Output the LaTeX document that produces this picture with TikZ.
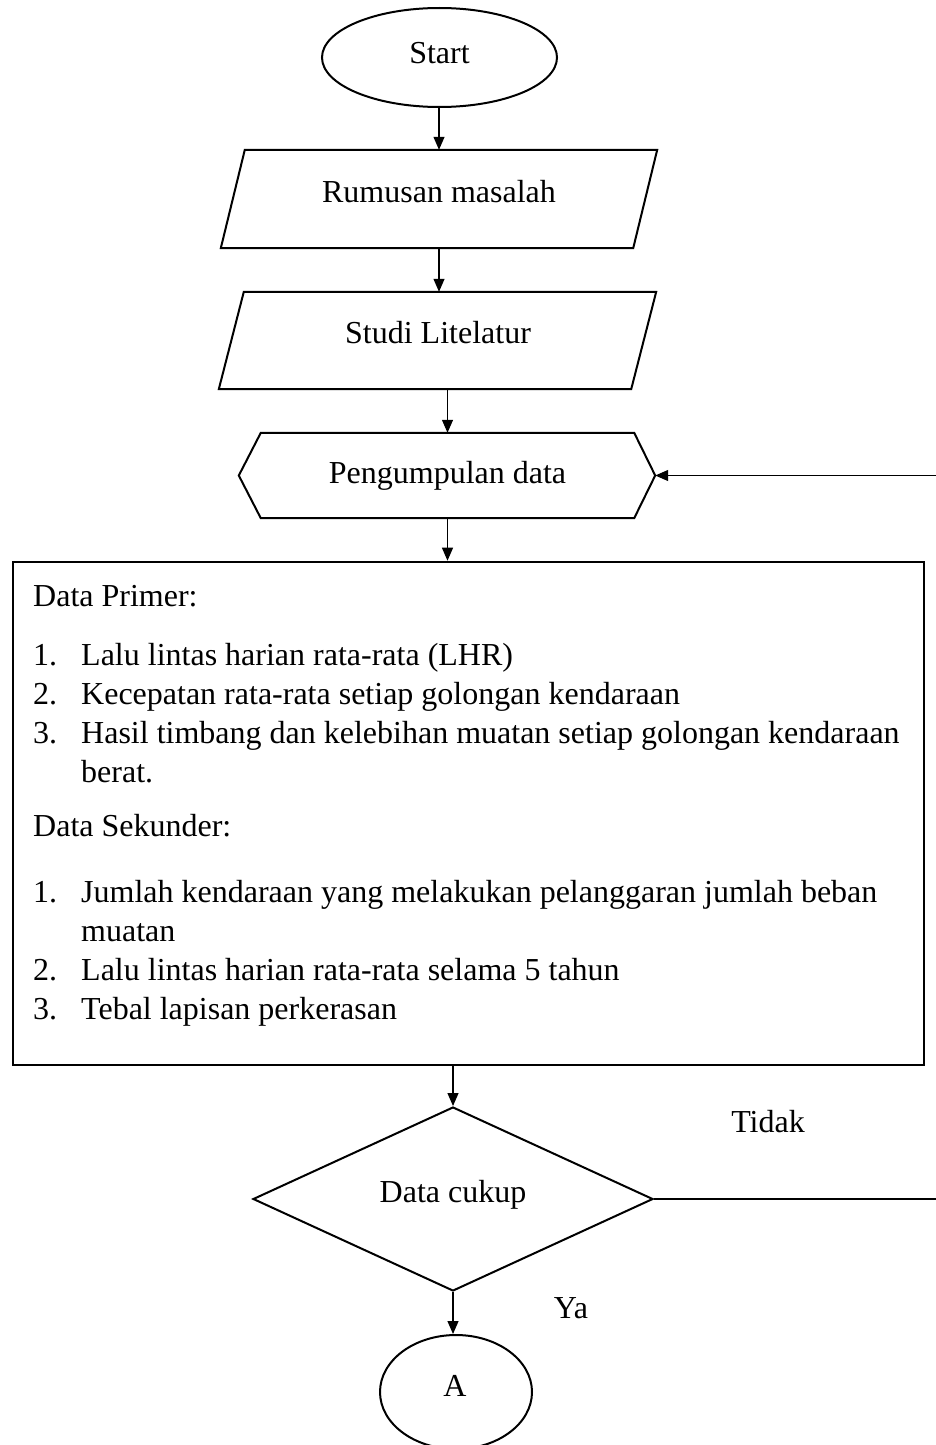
\documentclass[tikz,border=0pt]{standalone}
\usepackage{fontspec}
\setmainfont{Liberation Serif}
\usetikzlibrary{shapes.geometric,arrows.meta,calc}
\begin{document}
\begin{tikzpicture}[x=1pt,y=-1pt,
  shp/.style={draw,line width=2pt},
  arr/.style={line width=1.2pt,-{Triangle[length=13pt,width=11pt]}},
  txt/.style={anchor=base west},
  every node/.style={font=\fontsize{32}{38}\selectfont, inner sep=0pt}]
\useasboundingbox (0,0) rectangle (936,1445);
\clip (0,0) rectangle (936,1445);
% Start
\node[ellipse, shp, minimum width=235pt, minimum height=99pt] (start) at (439.5,57.5) {};
\node (startT) at (439.5,53) {Start};
% Rumusan masalah
\node[minimum width=412pt, minimum height=98pt] (p1) at (439,199) {};
\node (p1T) at (439,192) {Rumusan masalah};
\draw[shp] ($(p1.north west)+(12,0)$) -- ($(p1.north east)+(12,0)$) -- ($(p1.south east)+(-12,0)$) -- ($(p1.south west)+(-12,0)$) -- cycle;
% Studi Litelatur
\node[minimum width=412pt, minimum height=97pt] (p2) at (437.5,340.5) {};
\node (p2T) at (438,333) {Studi Litelatur};
\draw[shp] ($(p2.north west)+(12.5,0)$) -- ($(p2.north east)+(12.5,0)$) -- ($(p2.south east)+(-12.5,0)$) -- ($(p2.south west)+(-12.5,0)$) -- cycle;
% Pengumpulan data
\node[minimum width=373pt, minimum height=85pt] (hex) at (447.5,475.5) {Pengumpulan data};
\coordinate (hexE) at ($(hex.east)+(21,0)$);
\coordinate (hexW) at ($(hex.west)+(-22,0)$);
\draw[shp] (hex.north west) -- (hex.north east) -- (hexE) -- (hex.south east) -- (hex.south west) -- (hexW) -- cycle;
% Data box
\node[draw, line width=2.6pt, minimum width=911pt, minimum height=503pt] (box) at (468.5,813.5) {};
\node[txt] (h1) at (33,606) {Data Primer:};
\node[txt] (n1) at (33,665) {1.};
\node[txt] (i1) at (81,665) {Lalu lintas harian rata-rata (LHR)};
\node[txt] (n2) at (33,704) {2.};
\node[txt] (i2) at (81,704) {Kecepatan rata-rata setiap golongan kendaraan};
\node[txt] (n3) at (33,743) {3.};
\node[txt] (i3) at (81,743) {Hasil timbang dan kelebihan muatan setiap golongan kendaraan};
\node[txt] (i3b) at (81,782) {berat.};
\node[txt] (h2) at (33,836) {Data Sekunder:};
\node[txt] (m1) at (33,902) {1.};
\node[txt] (j1) at (81,902) {Jumlah kendaraan yang melakukan pelanggaran jumlah beban};
\node[txt] (j1b) at (81,941) {muatan};
\node[txt] (m2) at (33,980) {2.};
\node[txt] (j2) at (81,980) {Lalu lintas harian rata-rata selama 5 tahun};
\node[txt] (m3) at (33,1019) {3.};
\node[txt] (j3) at (81,1019) {Tebal lapisan perkerasan};
% Decision
\node[diamond, shp, minimum width=400pt, minimum height=184pt, aspect=2.17] (dec) at (453,1199) {};
\node (decT) at (453,1195) {Data cukup};
% Connector A
\node[ellipse, shp, minimum width=152pt, minimum height=114pt] (a) at (456,1392) {};
\node (aT) at (455,1386) {A};
% labels
\node (tidak) at (768,1122) {Tidak};
\node (ya) at (571,1308) {Ya};
% arrows
\draw[arr] (start.south -| p1.north) -- (p1.north);
\draw[arr] (p1.south) -- (p1.south |- p2.north);
\draw[arr] (p2.south -| hex.north) -- (hex.north);
\draw[arr] (hex.south) -- (hex.south |- box.north);
\draw[arr] (box.south -| dec.north) -- (dec.north);
\draw[arr] (dec.south) -- (dec.south |- a.north);
\coordinate (loop) at (960,1199);
\draw[arr] (dec.east) -- (loop) |- (hexE);
\end{tikzpicture}
\end{document}
